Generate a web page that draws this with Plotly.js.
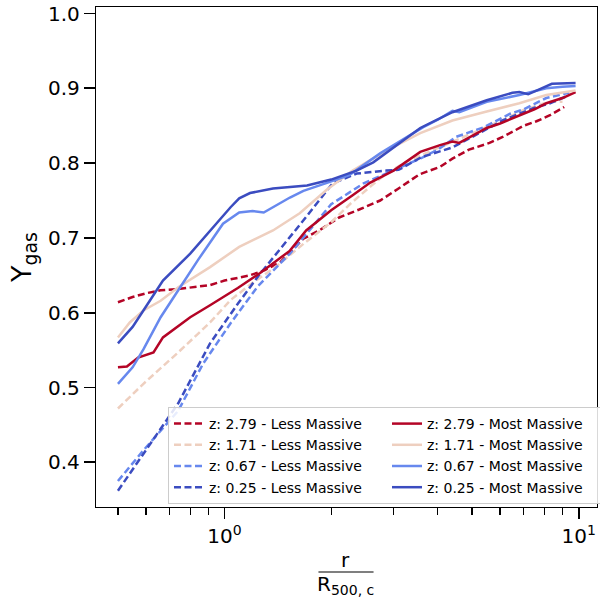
<!DOCTYPE html>
<html>
<head>
<meta charset="utf-8">
<script src="https://cdn.plot.ly/plotly-3.0.1.min.js"></script>
<style>html,body{margin:0;padding:0;background:#fff;}#chart{width:600px;height:600px;}</style>
</head>
<body>
<div id="chart"></div>
<script>
// ---- data ----
const redshifts = ["2.79", "1.71", "0.67", "0.25"];
const colors = ["#b40426", "#eecfbf", "#6788ee", "#3b4cc0"];

// Less massive (dashed)
const lessR_279 = [0.5,0.55,0.6,0.66,0.75,0.91,1.0,1.18,1.3,1.44,1.6,1.67,1.85,2.1,2.4,2.75,3.1,3.55,4.06,4.4,4.9,5.6,6.1,7.0,7.6,8.3,9.1];
const lessY_279 = [0.614,0.621,0.626,0.630,0.632,0.637,0.643,0.650,0.657,0.668,0.690,0.699,0.710,0.727,0.738,0.750,0.766,0.785,0.795,0.806,0.818,0.827,0.835,0.850,0.856,0.864,0.875];

const lessR_171 = [0.5,0.59,0.74,0.91,1.04,1.2,1.4,1.67,2.0,2.27,2.6,2.9,3.3,4.0,5.0,6.0,7.0,8.0,8.4,9.0];
const lessY_171 = [0.472,0.505,0.547,0.587,0.617,0.640,0.662,0.692,0.721,0.746,0.770,0.788,0.803,0.820,0.840,0.856,0.871,0.880,0.882,0.882];

const lessR_067 = [0.5,0.59,0.74,0.87,1.04,1.24,1.53,1.7,2.0,2.47,3.07,3.57,4.0,4.5,5.4,6.4,7.0,8.1,8.8,9.4];
const lessY_067 = [0.375,0.416,0.469,0.532,0.586,0.635,0.679,0.705,0.745,0.773,0.793,0.806,0.818,0.835,0.848,0.866,0.872,0.887,0.891,0.894];

const lessR_025 = [0.5,0.59,0.74,0.91,1.09,1.25,1.53,1.7,2.02,2.36,2.86,3.1,3.6,4.0,4.4,5.0,6.1,6.8,7.5,8.3,9.2];
const lessY_025 = [0.362,0.412,0.479,0.559,0.612,0.650,0.701,0.728,0.773,0.786,0.790,0.791,0.808,0.815,0.821,0.835,0.857,0.866,0.874,0.880,0.889];

// Most massive (solid)
const mostR_279 = [0.5,0.53,0.57,0.63,0.67,0.72,0.8,0.91,1.0,1.09,1.26,1.53,1.7,2.0,2.3,2.58,3.0,3.2,3.57,4.06,4.4,4.6,5.0,5.5,6.0,6.8,7.5,8.1,9.0,9.8];
const mostY_279 = [0.527,0.528,0.540,0.547,0.567,0.578,0.594,0.610,0.622,0.633,0.653,0.683,0.710,0.737,0.757,0.774,0.790,0.799,0.815,0.824,0.829,0.827,0.836,0.847,0.853,0.864,0.872,0.880,0.887,0.895];

const mostR_171 = [0.5,0.54,0.59,0.66,0.74,0.91,1.1,1.37,1.63,1.94,2.3,2.87,3.57,4.4,5.5,6.8,8.1,9.0,9.8];
const mostY_171 = [0.567,0.587,0.603,0.616,0.634,0.661,0.688,0.710,0.733,0.764,0.790,0.817,0.840,0.857,0.869,0.880,0.891,0.894,0.897];

const mostR_067 = [0.5,0.55,0.59,0.66,0.74,0.84,0.99,1.1,1.2,1.29,1.53,1.67,1.9,2.25,2.75,3.1,3.64,4.0,4.4,4.6,5.5,6.8,8.1,9.0,9.8];
const mostY_067 = [0.505,0.527,0.551,0.594,0.630,0.670,0.719,0.734,0.736,0.734,0.754,0.763,0.772,0.784,0.813,0.828,0.848,0.858,0.870,0.868,0.882,0.891,0.900,0.902,0.903];

const mostR_025 = [0.5,0.55,0.59,0.67,0.8,0.91,1.04,1.1,1.18,1.37,1.53,1.71,2.0,2.12,2.36,2.63,2.93,3.57,4.4,5.5,6.5,6.8,7.2,8.4,9.8];
const mostY_025 = [0.559,0.581,0.603,0.643,0.679,0.710,0.741,0.753,0.760,0.766,0.768,0.770,0.778,0.782,0.790,0.801,0.817,0.847,0.868,0.884,0.894,0.895,0.892,0.906,0.907];

const lessR = [lessR_279, lessR_171, lessR_067, lessR_025];
const lessY = [lessY_279, lessY_171, lessY_067, lessY_025];
const mostR = [mostR_279, mostR_171, mostR_067, mostR_025];
const mostY = [mostY_279, mostY_171, mostY_067, mostY_025];

const yTicks = [0.4, 0.5, 0.6, 0.7, 0.8, 0.9, 1.0];
const yTickText = ["0.4", "0.5", "0.6", "0.7", "0.8", "0.9", "1.0"];
const xTicks = [1, 10];
const xTickText = ["10<sup>0</sup>", "10<sup>1</sup>"];
const xMinorTicks = [0.5, 0.6, 0.7, 0.8, 0.9, 2, 3, 4, 5, 6, 7, 8, 9];

// ---- traces ----
const traces = [];
for (let i = 0; i < 4; i++) {
  traces.push({
    x: lessR[i], y: lessY[i], type: "scatter", mode: "lines",
    name: "z: " + redshifts[i] + " - Less Massive",
    line: {color: colors[i], width: 2.5, dash: "7px,3.5px"},
    legendrank: 1 + i * 2
  });
}
for (let i = 0; i < 4; i++) {
  traces.push({
    x: mostR[i], y: mostY[i], type: "scatter", mode: "lines",
    name: "z: " + redshifts[i] + " - Most Massive",
    line: {color: colors[i], width: 2.5},
    legendrank: 2 + i * 2
  });
}

const font = "DejaVu Sans, Arial, sans-serif";
const layout = {
  width: 600, height: 600,
  margin: {l: 96, r: 3, t: 7, b: 93, autoexpand: false},
  paper_bgcolor: "#fff", plot_bgcolor: "#fff",
  font: {family: font, color: "#000"},
  showlegend: true,
  legend: {
    orientation: "h",
    x: 0.1437, xanchor: "left", y: 0.006, yanchor: "bottom",
    bgcolor: "rgba(255,255,255,0.85)", bordercolor: "#cccccc", borderwidth: 1,
    font: {family: font, size: 14, color: "#000"},
    itemwidth: 30,
    entrywidth: 173, entrywidthmode: "pixels",
    traceorder: "normal"
  },
  xaxis: {
    type: "log",
    range: [-0.363, 1.0517],
    tickmode: "array", tickvals: xTicks, ticktext: xTickText,
    ticks: "outside", ticklen: 11, tickwidth: 1.8, tickcolor: "#000",
    minor: {tickmode: "array", tickvals: xMinorTicks, ticks: "outside", ticklen: 7, tickwidth: 1.3, tickcolor: "#000", showgrid: false},
    tickfont: {family: font, size: 20, color: "#000"},
    showgrid: false, zeroline: false,
    showline: true, mirror: true, linecolor: "#000", linewidth: 1.2
  },
  yaxis: {
    range: [0.3403, 1.0087],
    tickmode: "array", tickvals: yTicks, ticktext: yTickText,
    ticks: "outside", ticklen: 11, tickwidth: 1.8, tickcolor: "#000",
    tickfont: {family: font, size: 20, color: "#000"},
    showgrid: false, zeroline: false,
    showline: true, mirror: true, linecolor: "#000", linewidth: 1.2,
    title: {text: "Y<sub>gas</sub>", font: {family: font, size: 27, color: "#000"}, standoff: 8}
  },
  annotations: [
    {text: "r", xref: "paper", yref: "paper", x: 0.499, y: -0.106, showarrow: false,
     xanchor: "center", yanchor: "middle", font: {family: font, size: 20, color: "#000"}},
    {text: "R<sub>500, c</sub>", xref: "paper", yref: "paper", x: 0.499, y: -0.155, showarrow: false,
     xanchor: "center", yanchor: "middle", font: {family: font, size: 20, color: "#000"}}
  ],
  shapes: [
    {type: "line", xref: "paper", yref: "paper", x0: 0.444, x1: 0.554, y0: -0.13, y1: -0.13,
     line: {color: "#000", width: 1.2}}
  ]
};

Plotly.newPlot("chart", traces, layout, {displayModeBar: false, staticPlot: true});
</script>
</body>
</html>
